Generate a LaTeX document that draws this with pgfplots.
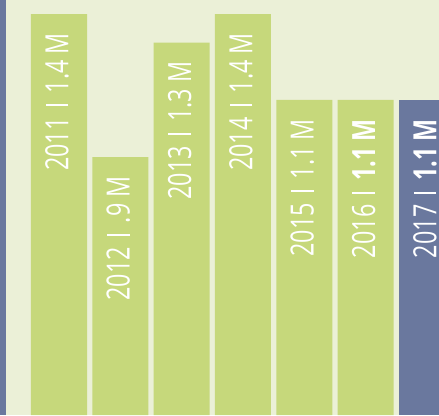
\documentclass[border=0pt]{standalone}
\usepackage{pgfplots}
\pgfplotsset{compat=1.18}
\usepackage{fontspec}
\setmainfont{Open Sans}[FakeStretch=0.73]
\definecolor{bgcol}{HTML}{EBF0D7}
\definecolor{barg}{HTML}{C6D87B}
\definecolor{barb}{HTML}{6A789E}
\protected\def\sep{\hspace{11pt}\rule[0pt]{2pt}{\fontcharht\font`\M}\hspace{11pt}}
\begin{document}
\begin{tikzpicture}
\begin{axis}[
  width=439pt, height=415pt, scale only axis,
  xmin=-0.962, xmax=6.196, ymin=0, ymax=1.449,
  axis line style={draw=none}, xtick=\empty, ytick=\empty,
  axis background/.style={fill=bgcol},
  point meta=explicit symbolic,
  nodes near coords={\pgfplotspointmeta},
  every node near coord/.style={yshift=-19pt, xshift=-2pt, rotate=90, anchor=east, text=white, inner sep=0pt, font=\fontsize{32}{38}\selectfont},
]
\addplot[ybar, bar width=56pt, bar shift=0pt, fill=barg, draw=none] coordinates {
 (0,1.4) [2011\sep 1.4 M]
 (1,0.9) [2012\sep .9 M]
 (2,1.3) [2013\sep 1.3 M]
 (3,1.4) [2014\sep 1.4 M]
 (4,1.1) [2015\sep 1.1 M]
 (5,1.1) [2016\sep \textbf{1.1 M}]
};
\addplot[ybar, bar width=56pt, bar shift=0pt, fill=barb, draw=none] coordinates {
 (6,1.1) [2017\sep \textbf{1.1 M}]
};
\fill[barb] (axis cs:-0.962,0) rectangle (axis cs:-0.864,1.449);
\coordinate (ll) at (rel axis cs:0,0);
\coordinate (ur) at (rel axis cs:1,1);
\end{axis}
\pgfresetboundingbox
\path[use as bounding box] (ll) rectangle (ur);
\end{tikzpicture}
\end{document}
